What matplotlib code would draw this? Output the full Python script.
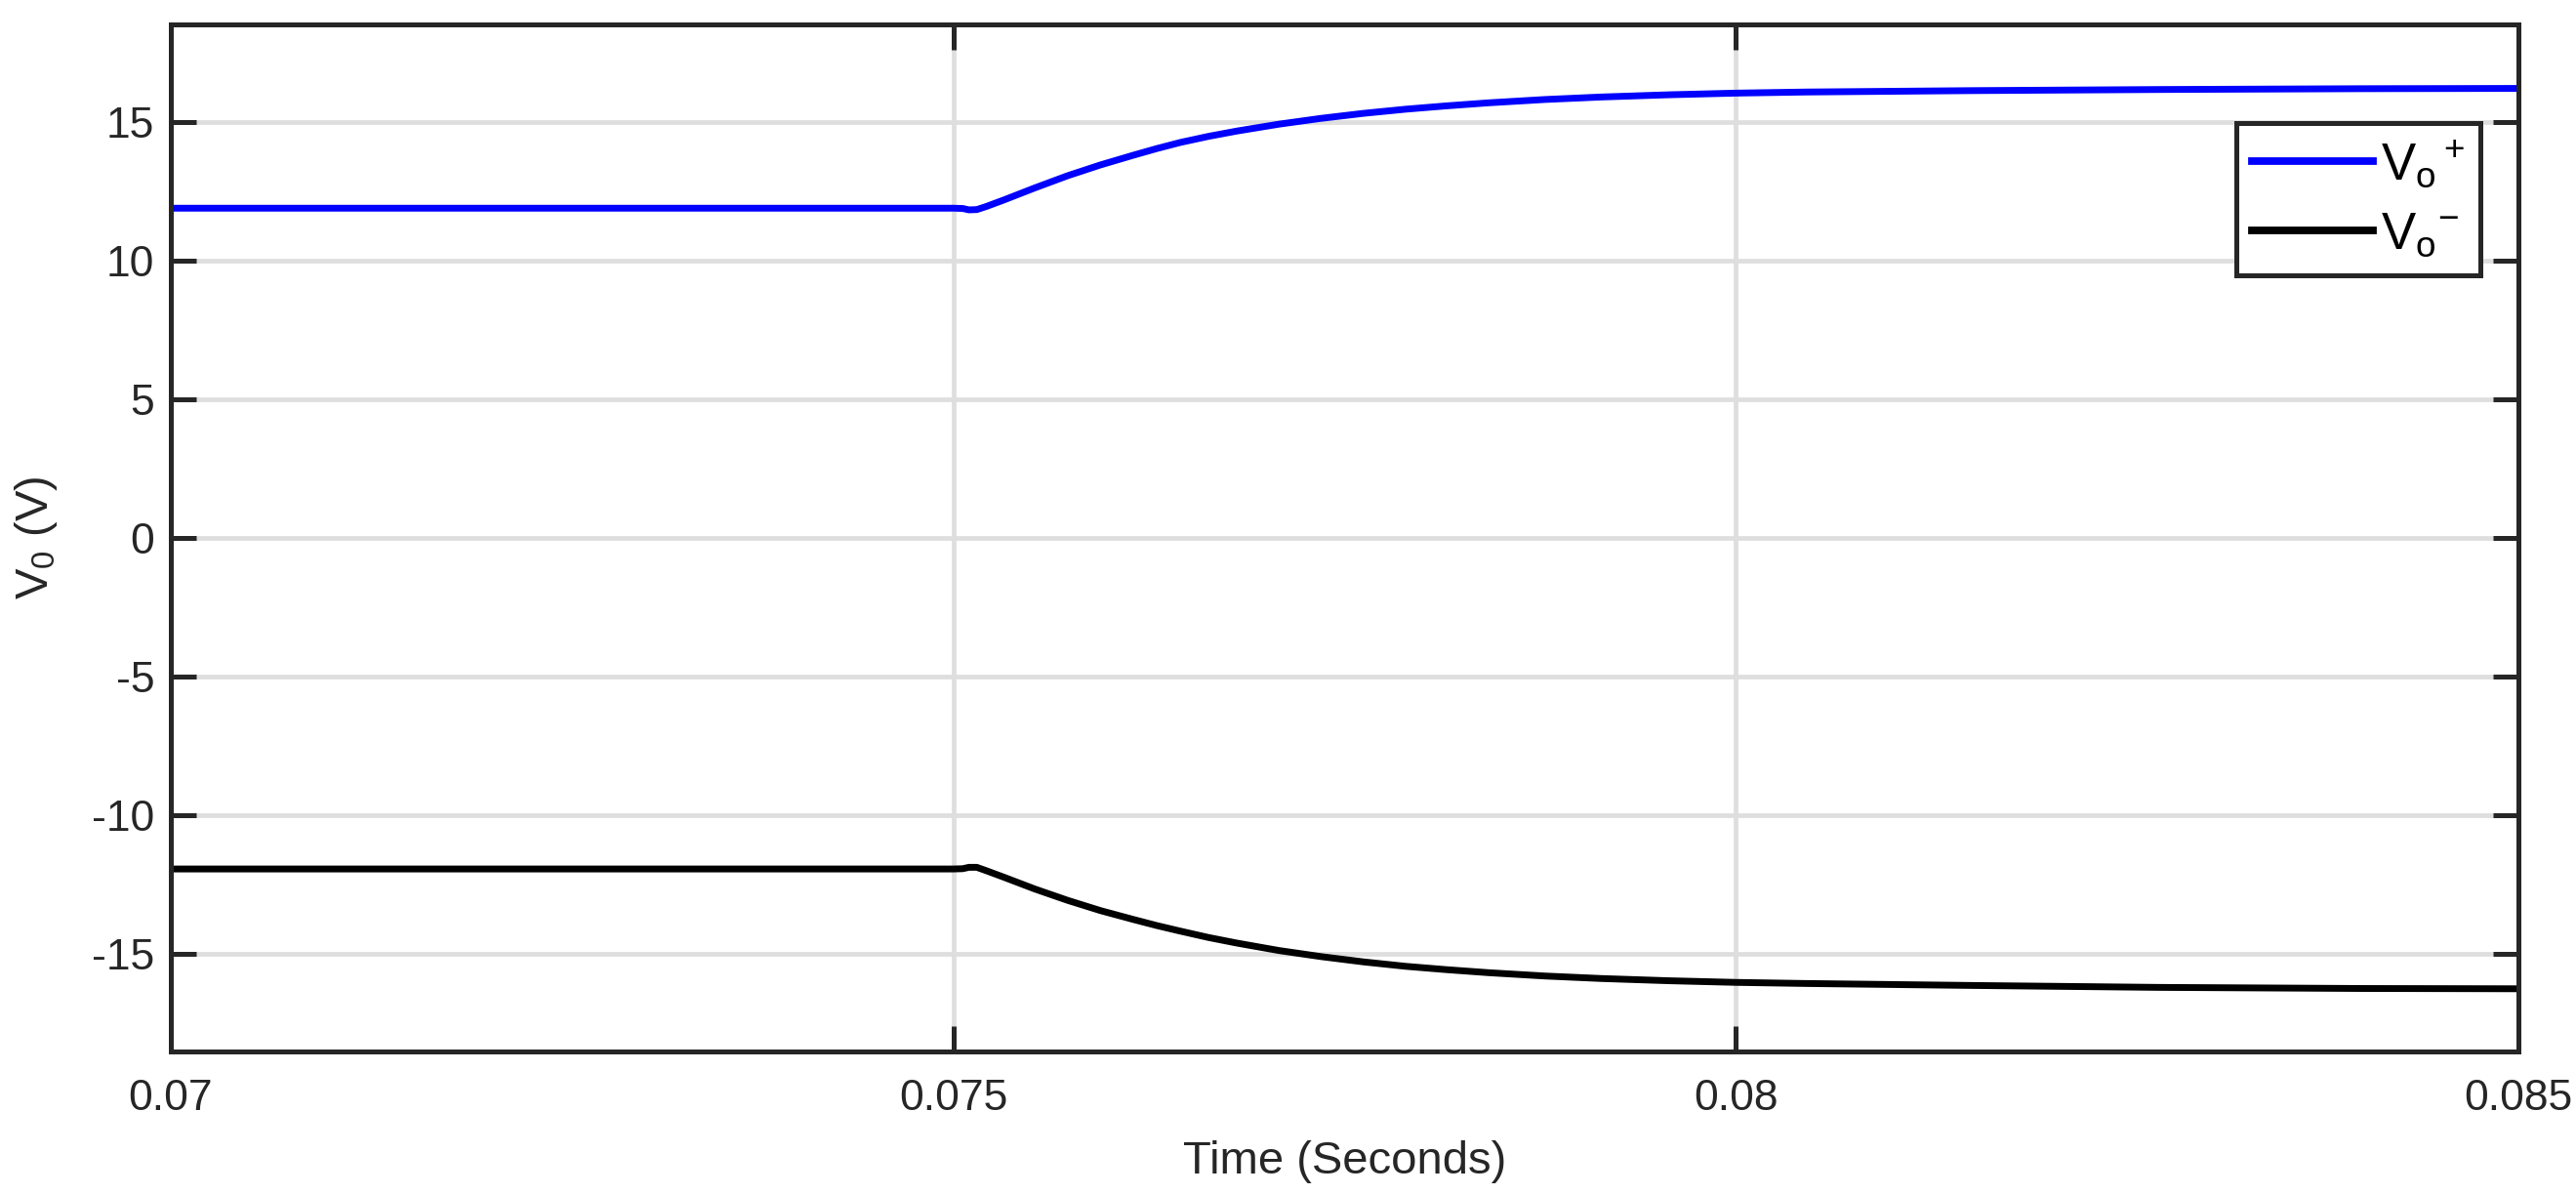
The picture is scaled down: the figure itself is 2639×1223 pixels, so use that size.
import numpy as np
import matplotlib
matplotlib.use("Agg")
import matplotlib.pyplot as plt

# --> Values
time_s = [0.07000, 0.07500, 0.07506, 0.07510, 0.07515, 0.07521, 0.07532, 0.07552,
          0.07573, 0.07594, 0.07615, 0.07630, 0.07645, 0.07663, 0.07681, 0.07708,
          0.07735, 0.07762, 0.07789, 0.07815, 0.07842, 0.07878, 0.07914, 0.07957,
          0.08000, 0.08045, 0.08150, 0.08270, 0.08400, 0.08500]

vo_plus = [11.89, 11.89, 11.88, 11.83, 11.84, 11.95, 12.18, 12.62,
           13.06, 13.45, 13.80, 14.04, 14.26, 14.48, 14.67, 14.92,
           15.13, 15.31, 15.46, 15.58, 15.69, 15.81, 15.90, 15.98,
           16.04, 16.08, 16.13, 16.17, 16.20, 16.21]

vo_minus = [-11.94, -11.94, -11.93, -11.88, -11.88, -12.00, -12.23, -12.66,
            -13.07, -13.44, -13.76, -13.98, -14.18, -14.41, -14.61, -14.88,
            -15.10, -15.29, -15.45, -15.57, -15.68, -15.80, -15.89, -15.97,
            -16.03, -16.07, -16.14, -16.21, -16.25, -16.26]

x_ticks = [0.07, 0.075, 0.08, 0.085]
x_tick_labels = ["0.07", "0.075", "0.08", "0.085"]
y_ticks = [-15, -10, -5, 0, 5, 10, 15]

# --> Style
dark = "#262626"
plt.rcParams["font.family"] = ["Liberation Sans", "DejaVu Sans"]
plt.rcParams["mathtext.fontset"] = "custom"
plt.rcParams["mathtext.rm"] = "Liberation Sans"
plt.rcParams["mathtext.it"] = "Liberation Sans"
plt.rcParams["axes.unicode_minus"] = False

fig = plt.figure(figsize=(13.195, 6.115), dpi=200)
ax = fig.add_axes([0.0663, 0.1194, 0.9113, 0.8602])

ax.plot(time_s, vo_plus, color="#0000ff", lw=2.5, label=r"V$_\mathrm{o}$$^+$")
ax.plot(time_s, vo_minus, color="black", lw=2.5, label=r"V$_\mathrm{o}$$^\mathrm{-}$")

ax.set_xlim(0.07, 0.085)
ax.set_ylim(-18.52, 18.52)
ax.set_xticks(x_ticks)
ax.set_xticklabels(x_tick_labels)
ax.set_yticks(y_ticks)

ax.grid(True, color="#dedede", lw=1.7)
ax.set_axisbelow(True)

for sp in ax.spines.values():
    sp.set_color(dark)
    sp.set_linewidth(1.8)

ax.tick_params(direction="in", length=9.5, width=1.8, color=dark, labelcolor=dark,
               labelsize=16, top=True, right=True)
ax.tick_params(axis="x", pad=10)
ax.tick_params(axis="y", pad=6)

ax.set_xlabel("Time (Seconds)", fontsize=17, color=dark, labelpad=8)
ax.set_ylabel(r"V$_0$ (V)", fontsize=17, color=dark, labelpad=12)

leg = ax.legend(loc="upper right", bbox_to_anchor=(0.9838, 0.904), borderaxespad=0,
                fontsize=19, handlelength=2.35, handletextpad=0.15, labelspacing=0.4,
                borderpad=0.3, fancybox=False, framealpha=1, edgecolor=dark)
leg.get_frame().set_linewidth(1.8)
for line in leg.get_lines():
    line.set_linewidth(2.8)

fig.savefig("out.png", dpi=200, facecolor="white")
